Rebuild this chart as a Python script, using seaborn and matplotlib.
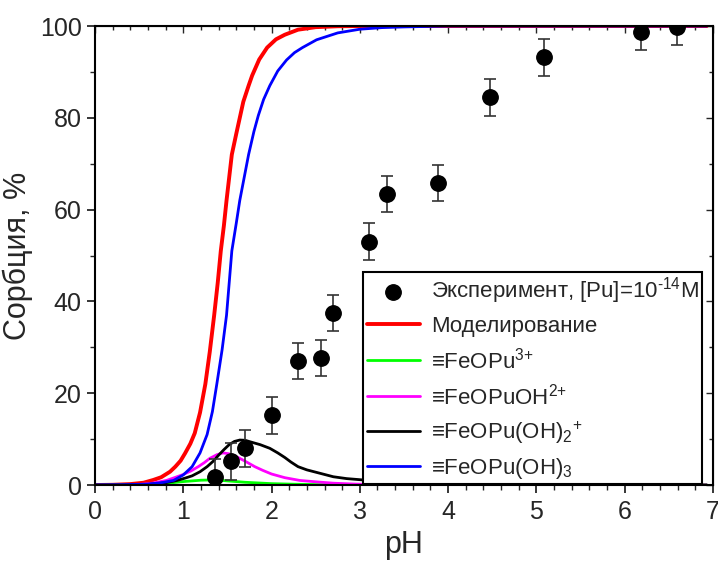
import numpy as np
import pandas as pd
import seaborn as sns
import matplotlib.pyplot as plt

# экспериментальные точки
ph_exp = [1.36, 1.54, 1.70, 2.01, 2.30, 2.56, 2.70, 3.10, 3.31, 3.88, 4.47, 5.09, 6.19, 6.59]
sorb_exp = [1.7, 5.2, 8.0, 15.2, 27.0, 27.7, 37.5, 53.0, 63.4, 65.8, 84.5, 93.2, 98.7, 99.8]
err_exp = [4.0] * len(ph_exp)

# моделирование (суммарная сорбция)
ph_model = [0.0, 0.2, 0.4, 0.55, 0.66, 0.75, 0.85, 0.91, 0.97, 1.02, 1.08, 1.13, 1.19, 1.25, 1.30,
            1.35, 1.39, 1.425, 1.46, 1.49, 1.52, 1.55, 1.60, 1.68, 1.74, 1.78, 1.86, 1.95, 2.05,
            2.15, 2.30, 2.50, 2.75, 3.0, 6.93]
sorb_model = [0.0, 0.05, 0.2, 0.5, 1.1, 1.7, 2.9, 4.0, 5.3, 6.9, 9.0, 11.3, 15.8, 22.0, 29.0,
              37.0, 44.0, 51.0, 56.5, 62.0, 67.0, 72.0, 76.5, 83.5, 87.0, 89.2, 92.7, 95.3, 97.1,
              98.1, 99.2, 99.75, 99.95, 100.0, 100.0]

# формы сорбции
ph_fe3 = [0.0, 0.4, 0.6, 0.75, 0.9, 1.0, 1.1, 1.2, 1.3, 1.4, 1.5, 1.6, 1.7, 1.85, 2.0, 2.25, 2.5,
          3.0, 4.0, 6.93]
sorb_fe3 = [0.0, 0.05, 0.15, 0.3, 0.55, 0.75, 0.9, 1.05, 1.1, 1.05, 0.9, 0.75, 0.6, 0.45, 0.3,
            0.18, 0.1, 0.03, 0.0, 0.0]

ph_fe_oh = [0.0, 0.3, 0.5, 0.65, 0.81, 0.9, 1.0, 1.09, 1.17, 1.24, 1.3, 1.38, 1.45, 1.52, 1.6,
            1.7, 1.81, 1.9, 2.0, 2.15, 2.32, 2.5, 2.7, 2.95, 3.2, 4.0, 6.93]
sorb_fe_oh = [0.0, 0.02, 0.1, 0.4, 1.0, 1.6, 2.3, 3.1, 4.0, 4.9, 5.8, 6.6, 7.0, 6.8, 6.2,
              5.2, 4.0, 3.2, 2.4, 1.6, 1.0, 0.7, 0.4, 0.2, 0.1, 0.0, 0.0]

ph_fe_oh2 = [0.0, 0.3, 0.6, 0.8, 0.93, 1.02, 1.1, 1.19, 1.27, 1.34, 1.4, 1.46, 1.52, 1.58, 1.64,
             1.70, 1.76, 1.87, 1.98, 2.07, 2.15, 2.22, 2.3, 2.4, 2.5, 2.6, 2.7, 2.85, 3.04,
             3.25, 3.5, 4.0, 5.0, 6.93]
sorb_fe_oh2 = [0.0, 0.02, 0.15, 0.5, 1.0, 1.5, 2.0, 2.9, 4.0, 5.2, 6.5, 7.7, 8.8, 9.5, 9.8,
               9.75, 9.4, 8.8, 8.0, 7.0, 6.0, 5.0, 4.0, 3.3, 2.8, 2.3, 1.8, 1.4, 1.1,
               0.75, 0.5, 0.2, 0.05, 0.0]

ph_fe_oh3 = [0.0, 0.3, 0.6, 0.75, 0.89, 1.0, 1.10, 1.19, 1.27, 1.33, 1.38, 1.44, 1.49, 1.52, 1.55,
             1.60, 1.64, 1.69, 1.74, 1.80, 1.85, 1.91, 1.98, 2.07, 2.17, 2.26, 2.35, 2.51, 2.75,
             3.0, 3.25, 3.5, 4.0, 6.93]
sorb_fe_oh3 = [0.0, 0.05, 0.2, 0.5, 1.0, 2.2, 4.0, 7.0, 11.0, 16.0, 22.0, 29.5, 37.0, 44.0, 51.0,
               57.0, 62.0, 67.0, 72.0, 77.0, 80.5, 84.0, 87.0, 90.2, 92.6, 94.2, 95.3, 97.0, 98.5,
               99.3, 99.65, 99.8, 100.0, 100.0]

sns.set_style('ticks')
plt.rcParams['font.family'] = ['Liberation Sans', 'DejaVu Sans']
plt.rcParams['mathtext.fontset'] = 'custom'
plt.rcParams['mathtext.rm'] = 'Liberation Sans'
plt.rcParams['mathtext.default'] = 'regular'

fig = plt.figure(figsize=(7.18, 5.63), dpi=100)
ax = fig.add_axes([0.1323, 0.1385, 0.8607, 0.8153])

df_exp = pd.DataFrame({'pH': ph_exp, 'sorb': sorb_exp, 'err': err_exp})
ax.errorbar(df_exp['pH'], df_exp['sorb'], yerr=df_exp['err'], fmt='none',
            ecolor='#333333', elinewidth=1.2, capsize=4.5, capthick=1.2, zorder=3)
sns.scatterplot(data=df_exp, x='pH', y='sorb', color='black', s=125, edgecolor='black',
                zorder=4, label='Эксперимент, [Pu]=10$^{\\text{-14}}$M', ax=ax)

curves = [
    (ph_model, sorb_model, '#ff0000', 2.8, 'Моделирование'),
    (ph_fe3, sorb_fe3, '#00ff00', 2.0, '≡FeOPu$^{\\text{3+}}$'),
    (ph_fe_oh, sorb_fe_oh, '#ff00ff', 2.0, '≡FeOPuOH$^{\\text{2+}}$'),
    (ph_fe_oh2, sorb_fe_oh2, '#000000', 2.0, '≡FeOPu(OH)$_{2}$$^{\\text{+}}$'),
    (ph_fe_oh3, sorb_fe_oh3, '#0000ff', 2.0, '≡FeOPu(OH)$_{3}$'),
]
for xs, ys, col, lw, lab in curves:
    sns.lineplot(x=xs, y=ys, color=col, linewidth=lw, label=lab, sort=False, ax=ax, zorder=2)

ax.set_xlim(0, 7)
ax.set_ylim(0, 100)
ax.set_xticks(range(0, 8))
ax.set_yticks(range(0, 101, 20))
ax.set_xticks(np.arange(0, 7.01, 0.2), minor=True)
ax.set_yticks(range(0, 101, 10), minor=True)
ax.tick_params(axis='both', which='major', labelsize=18, length=6, width=1.3, direction='out')
ax.tick_params(axis='x', which='major', pad=5)
ax.tick_params(axis='both', which='minor', length=3.5, width=1.0, direction='out')
for sp in ax.spines.values():
    sp.set_linewidth(1.5)
    sp.set_color('black')

# зеркальные засечки сверху и справа (внутрь)
top = ax.secondary_xaxis('top')
top.set_xticks(range(0, 8))
top.set_xticks(np.arange(0, 7.01, 0.2), minor=True)
top.tick_params(which='both', direction='in', labeltop=False, width=1.0)
top.tick_params(which='major', length=5)
top.tick_params(which='minor', length=3)
right = ax.secondary_yaxis('right')
right.set_yticks(range(0, 101, 20))
right.set_yticks(range(0, 101, 10), minor=True)
right.tick_params(which='both', direction='in', labelright=False, width=1.0)
right.tick_params(which='major', length=5)
right.tick_params(which='minor', length=3)

ax.set_xlabel('pH', fontsize=22, labelpad=4)
ax.set_ylabel('Сорбция, %', fontsize=22)
ax.yaxis.set_label_coords(-0.1, 0.5)

handles, labels = ax.get_legend_handles_labels()
leg = ax.legend(handles, labels, loc='upper left', bbox_to_anchor=(0.434, 0.464),
                fontsize=16, frameon=True, fancybox=False, edgecolor='black', framealpha=1,
                handlelength=2.4, labelspacing=0.45, borderpad=0.15, handletextpad=0.5,
                borderaxespad=0)
leg.get_frame().set_linewidth(1.5)

fig.savefig('out.png', dpi=100)
